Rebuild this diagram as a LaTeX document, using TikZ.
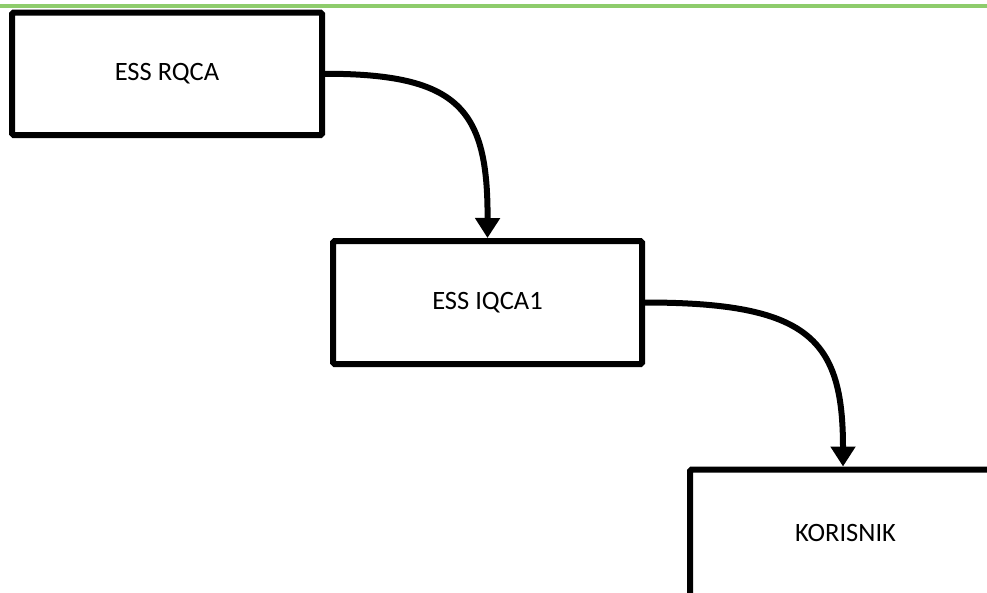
\documentclass[tikz,border=0pt]{standalone}
\usepackage{fontspec}
\setmainfont{Carlito}
\usetikzlibrary{arrows.meta}
\definecolor{rulegreen}{RGB}{142,204,108}
\tikzset{
  stagebox/.style={draw=black, line width=6pt, rounded corners=1.5pt, fill=white,
    inner sep=0pt, font=\fontsize{26.5}{32}\selectfont},
  flow/.style={line width=6pt, -{Triangle[length=20pt,width=24pt]}}
}
\begin{document}
\begin{tikzpicture}[x=1pt, y=-1pt]
  \useasboundingbox (0,0) rectangle (987,592);
  \clip (0,0) rectangle (987,592);
  % header rule
  \draw[rulegreen, line width=4.5pt] (0,5.8) -- (987,5.8);
  % stages
  \node[stagebox, minimum width=310pt, minimum height=122.5pt] (rqca) at (167,73.75) {ESS RQCA};
  \node[stagebox, minimum width=309pt, minimum height=123pt] (iqca) at (487.5,302.5) {ESS IQCA1};
  \node[stagebox, minimum width=311pt, minimum height=127pt] (user) at (845.5,533) {KORISNIK};
  % curved connectors
  \draw[flow] (rqca.east) .. controls (460,73.75) and (488,110) .. (iqca.north);
  \draw[flow] (iqca.east) .. controls (809,302.5) and (843,339) .. ([xshift=-2.5pt]user.north);
\end{tikzpicture}
\end{document}
